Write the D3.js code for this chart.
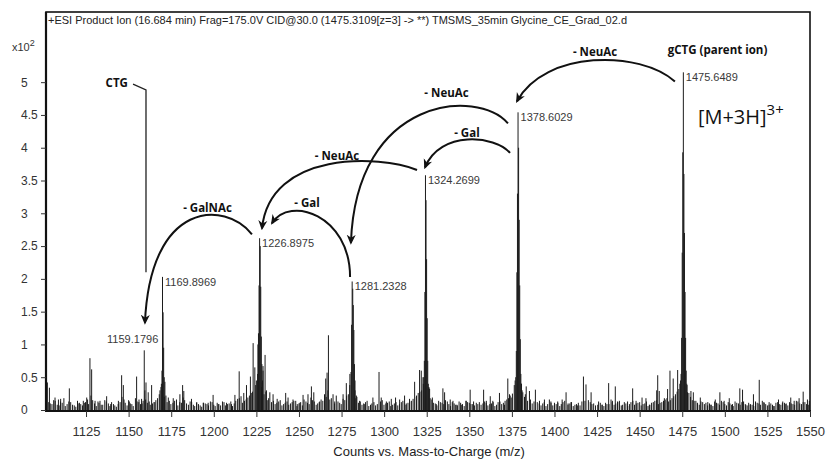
<!DOCTYPE html>
<html>
<head>
<meta charset="utf-8">
<script src="https://cdn.jsdelivr.net/npm/d3@7"></script>
<style>
  body { margin: 0; background: #fff; }
  svg { display: block; font-family: "Liberation Sans", Arial, sans-serif; }
</style>
</head>
<body>
<svg id="chart" width="829" height="463"></svg>
<script>
// ---- Product-ion spectrum of gCTG [M+3H]3+ (counts vs m/z) ----

const titleText = "+ESI Product Ion (16.684 min) Frag=175.0V CID@30.0 (1475.3109[z=3] -> **) TMSMS_35min Glycine_CE_Grad_02.d";
const xAxisTitle = "Counts vs. Mass-to-Charge (m/z)";

const xTicks = [1125, 1150, 1175, 1200, 1225, 1250, 1275, 1300, 1325, 1350, 1375, 1400, 1425, 1450, 1475, 1500, 1525, 1550];
const yTicks = [0, 50, 100, 150, 200, 250, 300, 350, 400, 450, 500];   // counts; labelled in units of 10^2

// labelled fragment ions [m/z, counts]
const labelledPeaks = [
  [1159.1796, 91],
  [1169.8969, 203],
  [1226.8975, 262],
  [1281.2328, 196],
  [1324.2699, 358],
  [1378.6029, 454],
  [1475.6489, 515]
];

// isotope envelopes around the labelled ions [m/z, counts]
const isotopePeaks = [
  [1159.51, 30],
  [1169.23, 40], [1169.57, 60], [1170.23, 149], [1170.57, 95], [1170.90, 50],
  [1225.90, 100], [1226.23, 117], [1226.57, 190], [1227.23, 250], [1227.57, 188], [1227.90, 112], [1228.23, 70], [1228.57, 45], [1228.90, 60],
  [1279.90, 55], [1280.57, 58], [1280.90, 130], [1281.57, 185], [1281.90, 160], [1282.23, 122], [1282.57, 70], [1282.90, 45],
  [1323.27, 50], [1323.60, 75], [1323.93, 180], [1324.60, 320], [1324.93, 230], [1325.27, 140], [1325.60, 75], [1325.93, 40], [1326.27, 35],
  [1377.27, 50], [1377.60, 90], [1377.94, 210], [1378.27, 330], [1378.94, 400], [1379.27, 290], [1379.60, 190], [1379.94, 108], [1380.27, 55], [1380.60, 40],
  [1474.31, 55], [1474.64, 110], [1474.98, 240], [1475.31, 393], [1475.98, 360], [1476.31, 270], [1476.65, 180], [1476.98, 110], [1477.31, 60], [1477.65, 40]
];

// other resolved signals [m/z, counts]
const minorPeaks = [
  [1102.3, 42], [1103.5, 34], [1106.8, 19], [1108.8, 16], [1110.1, 17], [1115.2, 33], [1121.1, 11], [1123.4, 14],
  [1125.4, 19], [1127.3, 79], [1128.3, 62], [1130.3, 14], [1133.2, 14], [1137.1, 21], [1139.5, 9], [1143.9, 9],
  [1145.9, 53], [1146.9, 38], [1150.4, 13], [1154.7, 51], [1156.1, 16], [1157.6, 17], [1160.2, 42], [1161.5, 27],
  [1163.5, 38], [1165.4, 12], [1171.3, 43], [1173.3, 19], [1176.2, 18], [1180.1, 24], [1181.7, 38], [1182.4, 29],
  [1186.9, 17], [1189.9, 11], [1193.8, 11], [1196.7, 11], [1199.6, 23], [1202.6, 9], [1207.5, 11], [1210.4, 9],
  [1212.4, 23], [1214.9, 59], [1217.6, 26], [1219.2, 38], [1221.5, 51], [1223.1, 102], [1224.1, 65], [1228.9, 67],
  [1230.1, 84], [1230.9, 30], [1232.9, 27], [1234.8, 24], [1237.2, 17], [1242.2, 26], [1243.6, 19], [1246.5, 16],
  [1248.1, 14], [1250.5, 11], [1252.4, 23], [1255.3, 24], [1257.3, 36], [1258.7, 27], [1262.2, 13], [1265.7, 48],
  [1266.5, 57], [1267.3, 114], [1270.0, 24], [1271.9, 22], [1275.9, 24], [1277.8, 41], [1283.7, 22], [1285.6, 14],
  [1288.6, 9], [1293.4, 19], [1297.0, 58], [1298.3, 19], [1301.3, 13], [1304.2, 17], [1306.7, 19], [1309.1, 16],
  [1312.0, 22], [1314.9, 17], [1317.9, 43], [1320.8, 61], [1321.8, 60], [1322.8, 50], [1326.7, 32], [1328.3, 19],
  [1330.6, 9], [1334.5, 33], [1335.5, 27], [1338.8, 16], [1340.4, 14], [1342.7, 8], [1345.3, 8], [1348.2, 14],
  [1350.5, 31], [1352.5, 13], [1355.0, 9], [1358.4, 31], [1359.9, 11], [1362.3, 21], [1363.8, 14], [1367.7, 26],
  [1370.7, 8], [1372.6, 48], [1373.6, 24], [1374.6, 19], [1381.4, 27], [1383.4, 36], [1385.3, 29], [1388.8, 31],
  [1391.2, 14], [1394.1, 16], [1397.0, 16], [1400.0, 11], [1401.9, 13], [1404.5, 16], [1406.8, 27], [1409.7, 12],
  [1413.6, 7], [1417.0, 51], [1418.5, 39], [1421.5, 27], [1425.4, 8], [1427.9, 8], [1431.8, 41], [1433.2, 16],
  [1435.7, 36], [1438.1, 14], [1441.0, 12], [1445.9, 33], [1447.9, 14], [1451.4, 19], [1453.7, 18], [1455.7, 8],
  [1460.0, 30], [1460.6, 53], [1461.5, 29], [1464.5, 18], [1466.4, 32], [1467.8, 60], [1469.7, 48], [1472.3, 61],
  [1478.1, 27], [1480.1, 29], [1481.5, 27], [1483.0, 14], [1485.6, 19], [1488.9, 11], [1491.8, 8], [1494.4, 16],
  [1497.1, 27], [1499.6, 14], [1502.6, 18], [1504.5, 9], [1508.8, 33], [1510.4, 31], [1512.3, 8], [1514.9, 8],
  [1516.8, 24], [1520.2, 46], [1523.1, 11], [1526.0, 8], [1528.4, 6], [1531.5, 16], [1533.8, 11], [1535.8, 9],
  [1538.7, 19], [1540.7, 14], [1543.6, 18], [1546.0, 28], [1548.5, 16]
];

// chemical-noise floor [m/z, counts]
const noiseFloor = [
  [1103.1,12],[1105.0,9],[1106.9,14],[1109.2,7],[1111.0,11],[1112.8,6],[1114.9,13],[1117.1,8],[1119.0,5],[1120.8,10],
  [1122.9,7],[1124.7,12],[1126.5,9],[1128.9,15],[1131.0,6],[1132.6,11],[1134.8,8],[1136.9,13],[1139.0,6],[1141.1,9],
  [1142.8,5],[1145.0,12],[1147.3,16],[1149.1,7],[1151.0,10],[1152.7,6],[1155.0,13],[1157.0,9],[1158.5,14],[1161.0,11],
  [1162.7,8],[1164.9,12],[1167.0,18],[1168.4,30],[1171.0,20],[1172.6,12],[1174.8,9],[1177.0,14],[1178.9,7],[1181.0,11],
  [1182.9,15],[1185.1,8],[1187.0,12],[1188.8,6],[1191.0,9],[1192.9,5],[1195.0,10],[1196.9,7],[1199.0,12],[1200.8,6],
  [1203.0,9],[1205.1,13],[1206.8,7],[1209.0,10],[1211.0,6],[1212.9,14],[1215.0,18],[1216.8,11],[1219.0,16],[1220.9,22],
  [1222.7,28],[1225.0,45],[1228.0,35],[1229.5,24],[1231.7,15],[1233.9,12],[1236.0,9],[1238.1,13],[1240.0,7],[1241.9,11],
  [1244.0,8],[1246.0,12],[1248.8,6],[1250.0,10],[1252.0,7],[1254.1,13],[1256.0,9],[1258.0,15],[1260.1,8],[1261.9,12],
  [1264.0,14],[1266.0,20],[1268.1,16],[1270.9,10],[1272.9,13],[1274.8,9],[1276.9,15],[1279.0,24],[1283.0,18],[1284.9,11],
  [1287.0,8],[1289.1,12],[1291.0,6],[1292.8,10],[1295.0,7],[1297.9,13],[1299.9,8],[1302.0,11],[1303.9,6],[1306.0,10],
  [1308.0,7],[1310.1,12],[1312.8,8],[1314.0,11],[1316.0,14],[1318.9,20],[1320.0,26],[1322.0,30],[1327.0,18],[1328.9,11],
  [1331.0,7],[1333.0,12],[1335.0,9],[1337.1,13],[1339.0,6],[1341.1,10],[1343.0,7],[1344.9,11],[1347.0,6],[1349.0,12],
  [1351.0,9],[1353.1,7],[1354.1,11],[1356.9,8],[1359.0,13],[1360.9,7],[1363.0,10],[1365.0,6],[1366.9,12],[1369.0,9],
  [1371.0,14],[1373.0,18],[1375.3,25],[1376.4,38],[1381.0,30],[1382.4,20],[1384.2,14],[1386.9,10],[1389.9,12],[1392.1,7],
  [1393.1,10],[1395.0,6],[1398.0,11],[1399.0,7],[1401.0,9],[1403.1,6],[1405.0,12],[1407.9,8],[1409.0,10],[1411.0,6],
  [1412.9,9],[1415.0,7],[1416.1,13],[1419.9,15],[1423.0,10],[1424.1,7],[1426.9,11],[1429.0,6],[1430.8,9],[1433.9,12],
  [1435.0,8],[1437.0,13],[1439.2,7],[1441.9,10],[1443.0,6],[1444.9,12],[1447.0,8],[1449.0,11],[1450.9,7],[1453.0,10],
  [1454.9,6],[1457.0,11],[1458.9,14],[1461.0,9],[1463.0,12],[1465.0,16],[1467.0,13],[1469.0,18],[1471.0,24],[1473.0,32],
  [1474.0,45],[1478.9,26],[1480.9,15],[1483.9,11],[1485.0,8],[1487.0,12],[1489.9,7],[1491.0,10],[1493.0,6],[1495.1,11],
  [1496.9,8],[1499.0,12],[1501.0,7],[1503.0,10],[1504.9,6],[1507.0,11],[1509.0,8],[1511.0,13],[1513.1,7],[1515.0,9],
  [1517.0,6],[1519.0,11],[1521.0,8],[1522.9,12],[1525.0,7],[1527.0,10],[1529.0,6],[1531.0,12],[1532.9,8],[1535.0,11],
  [1537.0,7],[1539.0,10],[1541.0,8],[1542.9,13],[1545.0,9],[1547.0,12],[1549.0,8]
];

// second, interleaved stretch of the noise floor [m/z, counts]
const noiseFloorB = [
  [1104.0,10],[1106.0,15],[1108.1,8],[1110.0,13],[1112.0,18],[1113.9,9],[1116.0,12],[1118.1,7],[1120.0,14],[1121.9,9],
  [1124.0,11],[1125.9,16],[1127.9,22],[1130.0,10],[1132.0,13],[1133.9,8],[1136.0,15],[1138.1,10],[1140.0,12],[1141.9,7],
  [1144.0,14],[1146.1,20],[1148.0,11],[1150.0,15],[1151.9,9],[1154.0,18],[1156.0,12],[1157.9,10],[1160.0,16],[1162.1,13],
  [1164.0,10],[1166.0,15],[1168.0,24],[1169.0,35],[1171.9,22],[1173.9,14],[1176.0,11],[1178.1,16],[1180.0,12],[1182.0,19],
  [1184.0,10],[1186.1,13],[1188.0,8],[1190.0,12],[1192.0,7],[1194.0,11],[1196.0,9],[1198.0,13],[1200.0,8],[1202.0,11],
  [1204.0,7],[1206.0,12],[1208.0,9],[1210.0,13],[1212.0,10],[1214.0,17],[1216.0,21],[1218.0,14],[1220.0,19],[1222.0,26],
  [1224.6,38],[1225.7,55],[1228.4,42],[1230.6,28],[1232.2,18],[1235.0,14],[1237.0,11],[1239.0,15],[1241.0,9],[1243.0,13],
  [1245.0,10],[1247.0,14],[1249.0,9],[1251.0,12],[1253.0,16],[1255.0,11],[1257.0,19],[1259.0,13],[1261.0,10],[1263.0,16],
  [1265.0,24],[1267.0,30],[1269.0,18],[1271.0,13],[1273.9,11],[1275.9,17],[1278.0,22],[1279.8,38],[1282.9,30],[1284.0,20],
  [1286.0,13],[1288.0,10],[1290.0,14],[1292.0,8],[1294.0,12],[1296.0,9],[1298.9,15],[1301.0,10],[1303.0,13],[1305.0,8],
  [1307.0,12],[1309.0,9],[1311.0,14],[1313.0,10],[1315.0,13],[1317.0,17],[1319.0,22],[1321.0,28],[1323.0,40],[1326.3,34],
  [1328.0,16],[1330.0,10],[1332.0,14],[1334.0,11],[1336.0,15],[1338.0,9],[1340.0,12],[1342.0,8],[1344.0,13],[1346.0,9],
  [1348.0,14],[1350.0,11],[1352.0,9],[1355.9,12],[1358.0,10],[1360.0,14],[1362.0,9],[1364.0,12],[1366.0,8],[1368.0,13],
  [1370.0,11],[1372.0,16],[1374.0,22],[1376.9,45],[1380.6,40],[1382.9,24],[1385.9,16],[1388.0,13],[1391.0,10],[1394.0,12],
  [1396.0,9],[1397.9,13],[1400.0,8],[1402.0,11],[1404.0,9],[1406.0,14],[1408.0,10],[1410.0,12],[1412.0,8],[1414.0,11],
  [1417.9,14],[1421.0,12],[1422.0,9],[1425.9,13],[1428.0,8],[1430.0,11],[1432.0,9],[1434.0,14],[1436.0,10],[1438.0,12],
  [1440.0,8],[1442.9,13],[1444.0,9],[1446.0,14],[1448.0,10],[1450.0,12],[1452.0,9],[1454.0,13],[1456.0,8],[1458.0,12],
  [1460.0,15],[1462.0,11],[1464.0,14],[1466.0,18],[1468.0,15],[1470.0,21],[1472.0,28],[1473.6,40],[1477.8,38],[1479.9,20],
  [1482.0,14],[1484.0,10],[1486.0,13],[1488.0,9],[1490.0,12],[1492.0,8],[1494.0,13],[1496.0,10],[1498.0,14],[1500.0,9],
  [1502.0,12],[1504.0,8],[1506.0,13],[1508.0,10],[1510.0,12],[1512.0,9],[1514.0,11],[1516.0,8],[1518.0,13],[1520.0,10],
  [1522.0,14],[1524.0,9],[1526.0,12],[1528.0,8],[1530.0,11],[1532.0,9],[1534.0,13],[1536.0,10],[1538.0,12],[1540.0,9],
  [1542.0,14],[1544.0,10],[1546.0,12],[1548.0,9],[1549.6,14]
];

// neutral-loss arrows: cubic curves [start, control1, control2, end] in (m/z, counts)
const lossArrows = [
  [[1470.7, 501], [1450.2, 549], [1394.4, 549], [1378.0, 471]],   // 1475 -> 1378
  [[1372.7, 437], [1355.1, 491], [1283.5, 479], [1280.5, 255]],   // 1378 -> 1281
  [[1373.9, 392], [1365.1, 419], [1332.8, 427], [1324.0, 370]],   // 1378 -> 1324
  [[1319.3, 366], [1297.6, 389], [1233.0, 396], [1228.3, 277]],   // 1324 -> 1226
  [[1280.0, 203], [1280.0, 297], [1244.7, 328], [1234.2, 285]],   // 1281 -> 1226
  [[1222.4, 268], [1206.6, 320], [1162.6, 320], [1159.6, 133]]    // 1226 -> 1159
];
const lossLabels = [
  ["- NeuAc", 1423.8, 540],
  ["- NeuAc", 1336.6, 477],
  ["- Gal", 1348.6, 416],
  ["- NeuAc", 1272.3, 381],
  ["- Gal", 1254.7, 310],
  ["- GalNAc", 1196.3, 302]
];
// CTG pointer line and caption
const ctgPointer = [[1152.6, 497], [1160.2, 488], [1160.2, 210]];
const ctgCaption = ["CTG", 1149.6, 492];
const parentCaption = ["gCTG (parent ion)", 1495.7, 543];
const chargeCaption = [1484.2, 436];

// ---- layout ----
const svg = d3.select("#chart");
const plot = { left: 46, right: 810, top: 12, bottom: 410 };

const x = d3.scaleLinear().domain([1101.5, 1550]).range([plot.left, plot.right]);
const y = d3.scaleLinear().domain([0, 607]).range([plot.bottom, plot.top]);

// ---- spectrum sticks ----
const sticks = [].concat(noiseFloor, noiseFloorB, minorPeaks, isotopePeaks, labelledPeaks);
svg.append("g")
  .selectAll("line")
  .data(sticks)
  .join("line")
  .attr("x1", d => x(d[0])).attr("x2", d => x(d[0]))
  .attr("y1", y(0)).attr("y2", d => y(d[1]))
  .attr("stroke", "#1c1c1c")
  .attr("stroke-width", 1);

// ---- frame ----
svg.append("rect")
  .attr("x", plot.left).attr("y", plot.top)
  .attr("width", plot.right - plot.left).attr("height", plot.bottom + 1 - plot.top)
  .attr("fill", "none").attr("stroke", "#111").attr("stroke-width", 1.6);
svg.append("line")
  .attr("x1", plot.left).attr("x2", plot.left).attr("y1", plot.top).attr("y2", plot.bottom + 1)
  .attr("stroke", "#111").attr("stroke-width", 2.2);
svg.append("line")
  .attr("x1", plot.left - 1).attr("x2", plot.right + 1).attr("y1", plot.bottom + 1).attr("y2", plot.bottom + 1)
  .attr("stroke", "#111").attr("stroke-width", 2.2);

// ---- axes ----
const xAxis = svg.append("g")
  .attr("transform", `translate(0,${plot.bottom + 1})`)
  .call(d3.axisBottom(x).tickValues(xTicks).tickSize(6).tickPadding(10).tickFormat(d3.format("d")));
xAxis.select(".domain").remove();
xAxis.selectAll(".tick line").attr("stroke", "#333");
xAxis.selectAll(".tick text").attr("fill", "#333").style("font-size", "13px")
  .style("font-family", '"Liberation Sans", Arial, sans-serif');

const yAxis = svg.append("g")
  .attr("transform", `translate(${plot.left},0)`)
  .call(d3.axisLeft(y).tickValues(yTicks).tickSize(5).tickFormat(d => d3.format("~g")(d / 100)));
yAxis.select(".domain").remove();
yAxis.selectAll(".tick line").attr("stroke", "#333");
yAxis.selectAll(".tick text").attr("fill", "#333").attr("text-anchor", "start").attr("x", -25)
  .style("font-size", "12px").style("font-family", '"Liberation Sans", Arial, sans-serif');

// exponent caption
const expo = svg.append("text").attr("x", 12).attr("y", 51).attr("fill", "#333").style("font-size", "11px");
expo.append("tspan").text("x10");
expo.append("tspan").attr("dy", -5).style("font-size", "9px").text("2");

// title and axis title
svg.append("text").attr("x", 48).attr("y", 24).attr("fill", "#222").style("font-size", "11px").text(titleText);
svg.append("text").attr("x", (plot.left + plot.right) / 2 + 1).attr("y", 456).attr("text-anchor", "middle")
  .attr("fill", "#222").style("font-size", "13px").text(xAxisTitle);

// ---- peak m/z labels ----
svg.append("g").selectAll("text")
  .data(labelledPeaks)
  .join("text")
  .attr("x", d => d[0] === 1159.1796 ? x(d[0]) + 14 : x(d[0]) + 2.5)
  .attr("y", d => d[0] === 1159.1796 ? y(d[1]) - 7 : y(d[1]) + 9)
  .attr("text-anchor", d => d[0] === 1159.1796 ? "end" : "start")
  .attr("fill", "#3a3a3a")
  .style("font-size", "11px")
  .text(d => d[0].toFixed(4));

// ---- annotations ----
const defs = svg.append("defs");
defs.append("marker")
  .attr("id", "head").attr("markerUnits", "userSpaceOnUse")
  .attr("viewBox", "0 0 10 10").attr("refX", 8).attr("refY", 5)
  .attr("markerWidth", 10).attr("markerHeight", 10).attr("orient", "auto")
  .append("path").attr("d", "M0,0.5 L10,5 L0,9.5 L3,5 Z").attr("fill", "#111");

svg.append("g").selectAll("path")
  .data(lossArrows)
  .join("path")
  .attr("d", d => {
    const p = d3.path();
    p.moveTo(x(d[0][0]), y(d[0][1]));
    p.bezierCurveTo(x(d[1][0]), y(d[1][1]), x(d[2][0]), y(d[2][1]), x(d[3][0]), y(d[3][1]));
    return p.toString();
  })
  .attr("fill", "none").attr("stroke", "#111").attr("stroke-width", 2)
  .attr("marker-end", "url(#head)");

const boldFont = '"Open Sans", "Noto Sans", sans-serif';
svg.append("g").selectAll("text")
  .data(lossLabels)
  .join("text")
  .attr("x", d => x(d[1])).attr("y", d => y(d[2]))
  .attr("text-anchor", "middle")
  .attr("fill", "#111")
  .style("font-family", boldFont).style("font-weight", 700).style("font-size", "11.5px")
  .text(d => d[0]);

svg.append("path")
  .attr("d", d3.line().x(d => x(d[0])).y(d => y(d[1]))(ctgPointer))
  .attr("fill", "none").attr("stroke", "#222").attr("stroke-width", 1.3);
svg.append("text").attr("x", x(ctgCaption[1])).attr("y", y(ctgCaption[2]))
  .attr("text-anchor", "end").attr("fill", "#111")
  .style("font-family", boldFont).style("font-weight", 700).style("font-size", "11.5px")
  .text(ctgCaption[0]);
svg.append("text").attr("x", x(parentCaption[1])).attr("y", y(parentCaption[2]))
  .attr("text-anchor", "middle").attr("fill", "#111")
  .style("font-family", boldFont).style("font-weight", 700).style("font-size", "11.5px")
  .text(parentCaption[0]);

const ion = svg.append("text").attr("x", x(chargeCaption[0])).attr("y", y(chargeCaption[1]))
  .attr("fill", "#111").style("font-family", boldFont).style("font-size", "20px");
ion.append("tspan").text("[M+3H]");
ion.append("tspan").attr("dy", -9).style("font-size", "15px").text("3+");
</script>
</body>
</html>
